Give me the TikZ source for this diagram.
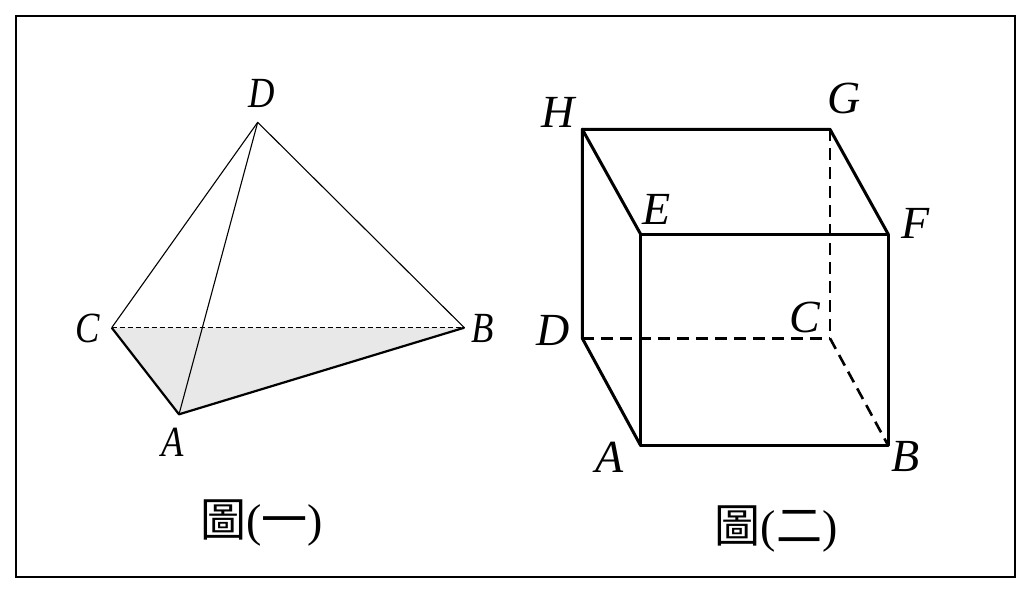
\documentclass[tikz,border=0pt]{standalone}
\usepackage{fontspec}
\setmainfont{Liberation Serif}
\newfontfamily\cjk{Noto Sans CJK TC}
\begin{document}
\begin{tikzpicture}[x=1pt,y=-1pt,
  thinedge/.style={line width=1.1pt,line join=round},
  thickedge/.style={line width=2.2pt,line join=round},
  hidden/.style={line width=1.5pt,dash pattern=on 5pt off 3pt},
  cubeedge/.style={line width=3pt,line join=round,line cap=round},
  cubehidden/.style={line width=2.6pt,dash pattern=on 12pt off 7pt},
  tlabel/.style={font=\fontsize{43}{46}\selectfont\itshape,inner sep=0pt,xscale=0.85},
  clabel/.style={font=\fontsize{46}{50}\selectfont\itshape,inner sep=0pt},
  caption/.style={font=\fontsize{46}{50}\selectfont,inner sep=0pt}]
\useasboundingbox (0,0) rectangle (1031,592);
\draw[line width=2pt] (15.7,15.7) rectangle (1015,576.7);
% tetrahedron
\coordinate (tD) at (257.7,122.3);
\coordinate (tC) at (111.7,327.7);
\coordinate (tB) at (464.3,327.7);
\coordinate (tA) at (179,414.3);
\fill[gray!18] (tC) -- (tA) -- (tB) -- cycle;
\draw[hidden] (tC) -- (tB);
\draw[thinedge] (tC) -- (tD) -- (tB);
\draw[thinedge] (tD) -- (tA);
\draw[thickedge] (tC) -- (tA) -- (tB);
\node[tlabel] (lD) at (262,93) {D};
\node[tlabel] (lC) at (88,328) {C};
\node[tlabel] (lB) at (483,328) {B};
\node[tlabel] (lA) at (173,442) {A};
% cube
\coordinate (cH) at (582.3,129.3);
\coordinate (cG) at (830,129.3);
\coordinate (cE) at (640.7,234.3);
\coordinate (cF) at (888.3,234.3);
\coordinate (cD) at (582.3,338.3);
\coordinate (cC) at (830,338.3);
\coordinate (cA) at (640.7,445.7);
\coordinate (cB) at (888.3,445.7);
\draw[cubehidden] (cG) -- (cC);
\draw[cubehidden] (cD) -- (cC);
\draw[cubehidden] (cC) -- (cB);
\draw[cubeedge] (cA) -- (cB) -- (cF) -- (cE) -- cycle;
\draw[cubeedge] (cE) -- (cH) -- (cG) -- (cF);
\draw[cubeedge] (cH) -- (cD) -- (cA);
\node[clabel] (lH) at (558,112) {H};
\node[clabel] (lG) at (844,98) {G};
\node[clabel] (lE) at (657,209) {E};
\node[clabel] (lF) at (916,223) {F};
\node[clabel] (lD2) at (553,330) {D};
\node[clabel] (lC2) at (805,317) {C};
\node[clabel] (lA2) at (610,457) {A};
\node[clabel] (lB2) at (906,457) {B};
% captions
\node[caption] (cap1) at (261.5,523) {{\cjk 圖}({\cjk 一})};
\node[caption] (cap2) at (776,529) {{\cjk 圖}({\cjk 二})};
\end{tikzpicture}
\end{document}
